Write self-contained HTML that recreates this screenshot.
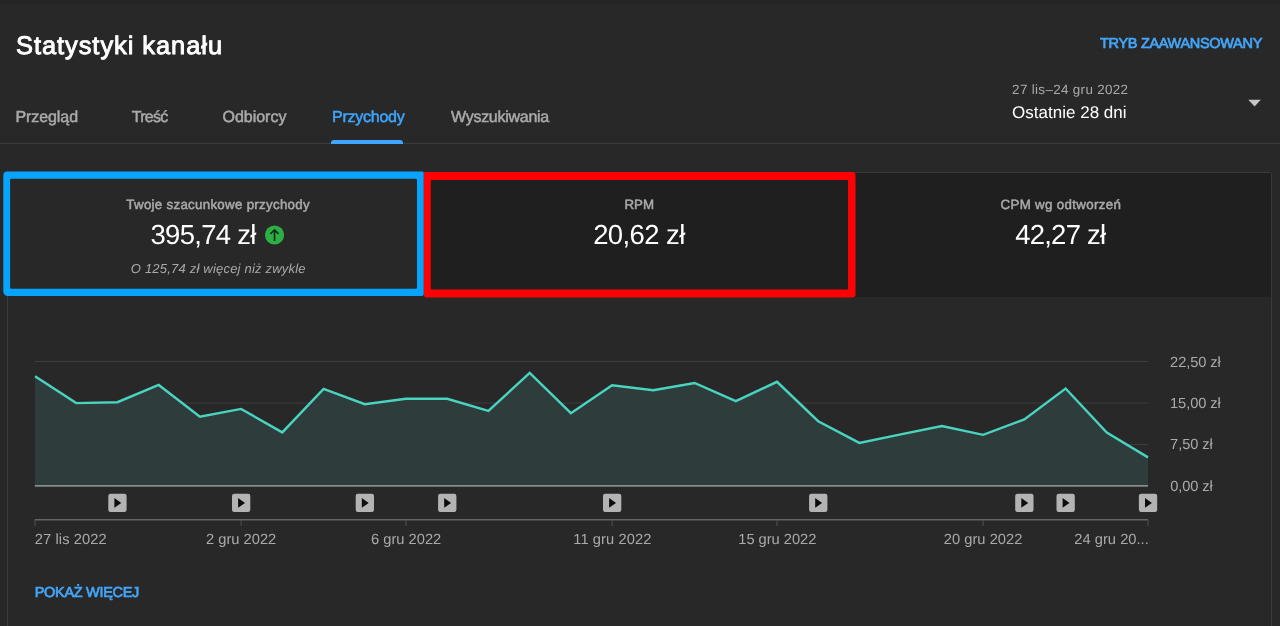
<!DOCTYPE html>
<html lang="pl"><head><meta charset="utf-8"><title>Statystyki kanału</title>
<style>
html,body{margin:0;padding:0;background:#282828;}
body{width:1280px;height:626px;overflow:hidden;position:relative;font-family:"Liberation Sans",sans-serif;color:#fff;text-rendering:geometricPrecision;}
.t{position:absolute;white-space:nowrap;line-height:1;}
#w{position:absolute;left:0;top:0;width:1280px;height:626px;overflow:hidden;will-change:transform;}
.m{-webkit-text-stroke:0.5px currentColor;}
.m2{-webkit-text-stroke:0.7px currentColor;}
.gray{color:#aaa;}
.blue{color:#44a5f8;}
.tab{color:#aaa;-webkit-text-stroke:0.5px currentColor;}
#topbar{position:absolute;left:0;top:0;width:1280px;height:4px;background:#242424;}
#tabline{position:absolute;left:0;top:143px;width:1280px;height:1px;background:#3c3c3c;}
#tabind{position:absolute;left:331px;top:140px;width:72px;height:3.5px;background:#3ea6ff;border-radius:3px 3px 0 0;}
#card{position:absolute;left:7px;top:172px;width:1263px;height:460px;border:1px solid #3a3a3a;border-radius:3px;background:#282828;}
#tab2bg{position:absolute;left:429px;top:173px;width:842px;height:124px;background:#1f1f1f;border-radius:0 2px 0 0;}
svg{position:absolute;left:0;top:0;}
</style></head><body><div id="w">
<div id="topbar"></div>
<span class="t" id="title" style="left:16.00px;top:33.69px;font-size:25.4px;letter-spacing:0.969px;-webkit-text-stroke:0.9px #fff;color:#fff;">Statystyki kanału</span>
<span class="t tab" id="tab1" style="left:15.40px;top:109.55px;font-size:16.0px;letter-spacing:-0.071px;">Przegląd</span>
<span class="t tab" id="tab2" style="left:131.85px;top:109.55px;font-size:16.0px;letter-spacing:-0.775px;">Treść</span>
<span class="t tab" id="tab3" style="left:222.50px;top:109.55px;font-size:16.0px;letter-spacing:-0.021px;">Odbiorcy</span>
<span class="t tab" id="tab4" style="left:332.00px;top:109.55px;font-size:16.0px;letter-spacing:-0.244px;color:#3ea6ff;">Przychody</span>
<span class="t tab" id="tab5" style="left:451.00px;top:109.55px;font-size:16.0px;letter-spacing:-0.273px;">Wyszukiwania</span>
<span class="t m2 blue" id="adv" style="left:1100.00px;top:36.62px;font-size:14.5px;letter-spacing:-0.312px;">TRYB ZAAWANSOWANY</span>
<span class="t gray" id="dr1" style="left:1012.10px;top:83.10px;font-size:13.4px;letter-spacing:0.338px;">27 lis–24 gru 2022</span>
<span class="t" id="dr2" style="left:1012.00px;top:103.51px;font-size:17.0px;letter-spacing:0.014px;">Ostatnie 28 dni</span>
<div id="tabline"></div><div id="tabind"></div>
<div id="card"></div>
<div id="tab2bg"></div>
<span class="t m gray" id="l1" style="left:126.35px;top:197.74px;font-size:13.3px;letter-spacing:0.294px;">Twoje szacunkowe przychody</span>
<span class="t" id="v1" style="left:150.50px;top:220.62px;font-size:27.5px;letter-spacing:-0.719px;">395,74 zł</span>
<span class="t gray" id="sub" style="left:130.75px;top:262.19px;font-size:13.0px;letter-spacing:0.205px;font-style:italic;">O 125,74 zł więcej niż zwykle</span>
<span class="t m gray" id="l2" style="left:624.40px;top:197.74px;font-size:13.3px;letter-spacing:0.100px;">RPM</span>
<span class="t" id="v2" style="left:593.20px;top:220.52px;font-size:27.5px;letter-spacing:-0.607px;">20,62 zł</span>
<span class="t m gray" id="l3" style="left:1000.55px;top:197.74px;font-size:13.3px;letter-spacing:0.333px;">CPM wg odtworzeń</span>
<span class="t" id="v3" style="left:1015.15px;top:220.52px;font-size:27.5px;letter-spacing:-0.750px;">42,27 zł</span>
<svg width="1280" height="626" viewBox="0 0 1280 626">
<circle cx="274.55" cy="235" r="9.6" fill="#2cb045"/>
<path d="M274.55 240.9 V230.4 M270.5 233.9 L274.55 229.9 L278.6 233.9" fill="none" stroke="#10301a" stroke-width="1.7"/>
<path d="M1248.3 99.8 H1260.8 L1254.55 106.4 Z" fill="#c6c6c6"/>
<rect x="35" y="361" width="1113" height="1" fill="#3d3d3d"/>
<rect x="35" y="402.5" width="1113" height="1" fill="#3d3d3d"/>
<rect x="35" y="444" width="1113" height="1" fill="#3d3d3d"/>
<polygon points="35.0,486 35.0,376.2 76.2,403.1 117.4,402.2 158.7,385.0 199.9,416.7 241.1,408.9 282.3,432.4 323.6,388.8 364.8,404.2 406.0,398.8 447.2,398.8 488.4,410.9 529.7,372.9 570.9,413.2 612.1,385.2 653.3,390.3 694.6,383.0 735.8,401.1 777.0,381.8 818.2,421.2 859.4,442.9 900.7,434.4 941.9,426.1 983.1,434.8 1024.3,419.4 1065.6,388.5 1106.8,432.6 1148.0,457.4 1148.0,486" fill="#2e3c3b"/>
<rect x="34.8" y="485" width="1113.2" height="1.7" fill="#878c8c"/>
<polyline points="35.0,376.2 76.2,403.1 117.4,402.2 158.7,385.0 199.9,416.7 241.1,408.9 282.3,432.4 323.6,388.8 364.8,404.2 406.0,398.8 447.2,398.8 488.4,410.9 529.7,372.9 570.9,413.2 612.1,385.2 653.3,390.3 694.6,383.0 735.8,401.1 777.0,381.8 818.2,421.2 859.4,442.9 900.7,434.4 941.9,426.1 983.1,434.8 1024.3,419.4 1065.6,388.5 1106.8,432.6 1148.0,457.4" fill="none" stroke="#49d4c0" stroke-width="2.4" stroke-linejoin="miter"/>
<rect x="34.8" y="519.1" width="1113.2" height="1.3" fill="#6c6c6c"/>
<rect x="34.5" y="520" width="1" height="6" fill="#505050"/>
<rect x="240.6" y="520" width="1" height="6" fill="#505050"/>
<rect x="405.5" y="520" width="1" height="6" fill="#505050"/>
<rect x="611.6" y="520" width="1" height="6" fill="#505050"/>
<rect x="776.5" y="520" width="1" height="6" fill="#505050"/>
<rect x="982.6" y="520" width="1" height="6" fill="#505050"/>
<rect x="1147.5" y="520" width="1" height="6" fill="#505050"/>
<g transform="translate(108.3,493.8)"><rect width="18.3" height="18.2" rx="2.2" fill="#b3b3b3"/><path d="M6.1 4.3 L13 9.1 L6.1 13.9 Z" fill="#0c0c0c"/></g>
<g transform="translate(232.0,493.8)"><rect width="18.3" height="18.2" rx="2.2" fill="#b3b3b3"/><path d="M6.1 4.3 L13 9.1 L6.1 13.9 Z" fill="#0c0c0c"/></g>
<g transform="translate(355.7,493.8)"><rect width="18.3" height="18.2" rx="2.2" fill="#b3b3b3"/><path d="M6.1 4.3 L13 9.1 L6.1 13.9 Z" fill="#0c0c0c"/></g>
<g transform="translate(438.1,493.8)"><rect width="18.3" height="18.2" rx="2.2" fill="#b3b3b3"/><path d="M6.1 4.3 L13 9.1 L6.1 13.9 Z" fill="#0c0c0c"/></g>
<g transform="translate(603.0,493.8)"><rect width="18.3" height="18.2" rx="2.2" fill="#b3b3b3"/><path d="M6.1 4.3 L13 9.1 L6.1 13.9 Z" fill="#0c0c0c"/></g>
<g transform="translate(809.1,493.8)"><rect width="18.3" height="18.2" rx="2.2" fill="#b3b3b3"/><path d="M6.1 4.3 L13 9.1 L6.1 13.9 Z" fill="#0c0c0c"/></g>
<g transform="translate(1015.2,493.8)"><rect width="18.3" height="18.2" rx="2.2" fill="#b3b3b3"/><path d="M6.1 4.3 L13 9.1 L6.1 13.9 Z" fill="#0c0c0c"/></g>
<g transform="translate(1056.5,493.8)"><rect width="18.3" height="18.2" rx="2.2" fill="#b3b3b3"/><path d="M6.1 4.3 L13 9.1 L6.1 13.9 Z" fill="#0c0c0c"/></g>
<g transform="translate(1138.9,493.8)"><rect width="18.3" height="18.2" rx="2.2" fill="#b3b3b3"/><path d="M6.1 4.3 L13 9.1 L6.1 13.9 Z" fill="#0c0c0c"/></g>
<path fill-rule="evenodd" fill="#06a4fc" d="M7.3 171.5 H422.3 A1.5 1.5 0 0 1 423.8 173.0 V293.55 A2.5 2.5 0 0 1 421.3 296.05 H7.8 A4.5 4.5 0 0 1 3.3 291.55 V175.5 A4 4 0 0 1 7.3 171.5 Z M11.3 178.7 H415.8 A1.2 1.2 0 0 1 417.0 179.9 V287.6 A1.2 1.2 0 0 1 415.8 288.8 H11.3 A1.2 1.2 0 0 1 10.1 287.6 V179.9 A1.2 1.2 0 0 1 11.3 178.7 Z"/>
<path fill-rule="evenodd" fill="#fc0204" d="M425.3 172.0 H852.35 A3.2 3.2 0 0 1 855.55 175.2 V294.6 A2.8 2.8 0 0 1 852.75 297.4 H426.8 A3 3 0 0 1 423.8 294.4 V173.5 A1.5 1.5 0 0 1 425.3 172.0 Z M432.0 180.0 H846.85 A1.2 1.2 0 0 1 848.05 181.2 V288.2 A1.2 1.2 0 0 1 846.85 289.4 H432.0 A1.2 1.2 0 0 1 430.8 288.2 V181.2 A1.2 1.2 0 0 1 432.0 180.0 Z"/>

</svg>
<span class="t gray" id="y1" style="left:1170.10px;top:355.75px;font-size:14.7px;letter-spacing:-0.121px;">22,50 zł</span>
<span class="t gray" id="y2" style="left:1170.05px;top:396.75px;font-size:14.7px;letter-spacing:-0.107px;">15,00 zł</span>
<span class="t gray" id="y3" style="left:1170.10px;top:437.75px;font-size:14.7px;letter-spacing:-0.108px;">7,50 zł</span>
<span class="t gray" id="y4" style="left:1170.15px;top:479.65px;font-size:14.7px;letter-spacing:-0.117px;">0,00 zł</span>
<span class="t gray" id="xl0" style="left:34.75px;top:532.75px;font-size:14.7px;letter-spacing:0.100px;">27 lis 2022</span>
<span class="t gray" id="xl1" style="left:206.00px;top:532.75px;font-size:14.7px;letter-spacing:0.000px;">2 gru 2022</span>
<span class="t gray" id="xl2" style="left:371.00px;top:532.75px;font-size:14.7px;letter-spacing:0.000px;">6 gru 2022</span>
<span class="t gray" id="xl3" style="left:573.25px;top:532.75px;font-size:14.7px;letter-spacing:0.075px;">11 gru 2022</span>
<span class="t gray" id="xl4" style="left:738.25px;top:532.75px;font-size:14.7px;letter-spacing:-0.025px;">15 gru 2022</span>
<span class="t gray" id="xl5" style="left:943.75px;top:532.75px;font-size:14.7px;letter-spacing:0.025px;">20 gru 2022</span>
<span class="t gray" id="xl6" style="left:1074.25px;top:532.75px;font-size:14.7px;letter-spacing:0.023px;">24 gru 20...</span>
<span class="t m2 blue" id="more" style="left:34.75px;top:585.52px;font-size:14.5px;letter-spacing:-0.309px;">POKAŻ WIĘCEJ</span>
</div></body></html>
